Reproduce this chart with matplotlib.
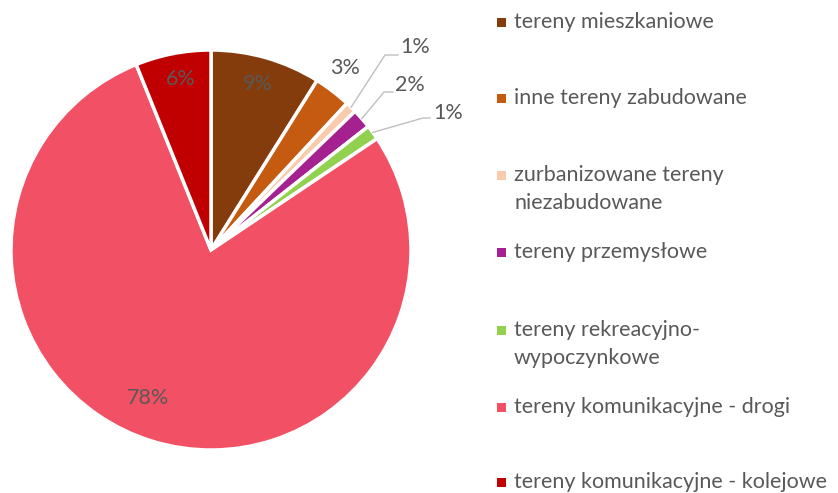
import numpy as np
import matplotlib.pyplot as plt
from matplotlib.patches import Rectangle

# Udział poszczególnych form użytkowania terenu (%)
labels = ['tereny mieszkaniowe', 'inne tereny zabudowane',
          'zurbanizowane tereny\nniezabudowane', 'tereny przemysłowe',
          'tereny rekreacyjno-\nwypoczynkowe', 'tereny komunikacyjne - drogi',
          'tereny komunikacyjne - kolejowe']
values = [8.9, 3.0, 0.9, 1.6, 1.2, 78.3, 6.1]
pct_labels = ['9%', '3%', '1%', '2%', '1%', '78%', '6%']
colors = ['#843C0C', '#C55A11', '#F8CBAD', '#A5218F', '#92D050', '#F25064', '#C00000']

text_color = '#595959'
plt.rcParams['font.family'] = ['Lato', 'DejaVu Sans']
fs = 15.5

fig = plt.figure(figsize=(8.38, 4.93), dpi=100)
ax = fig.add_axes([11 / 838, 43 / 493, 400 / 838, 400 / 493])
wedges, _ = ax.pie(values, colors=colors, startangle=90, counterclock=False,
                   wedgeprops=dict(edgecolor='white', linewidth=2.5))
ax.set_xlim(-1, 1)
ax.set_ylim(-1, 1)
ax.axis('off')

# label placement (data coords): inside labels, outside labels with leader lines
inside_pos = {0: (0.235, 0.83), 5: (-0.315, -0.74), 6: (-0.15, 0.855)}
outside_pos = {1: (0.67, 0.91)}
leader = {2: ((0.87, 0.975), (0.935, 0.975), (0.945, 1.015)),
          3: ((0.865, 0.79), (0.91, 0.79), (0.92, 0.825)),
          4: ((1.06, 0.66), (1.095, 0.66), (1.11, 0.685))}

cum = np.cumsum([0] + values[:-1])
total = sum(values)
for i, w in enumerate(wedges):
    if i in inside_pos:
        x, y = inside_pos[i]
        ax.text(x, y, pct_labels[i], ha='center', va='center', fontsize=fs, color=text_color)
    elif i in outside_pos:
        x, y = outside_pos[i]
        ax.text(x, y, pct_labels[i], ha='center', va='center', fontsize=fs, color=text_color)
    else:
        mid = np.deg2rad(90 - (cum[i] + values[i] / 2) / total * 360)
        sx, sy = 1.0 * np.cos(mid), 1.0 * np.sin(mid)
        elbow, end, tpos = leader[i]
        ax.plot([sx, elbow[0], end[0]], [sy, elbow[1], end[1]], color='#BFBFBF',
                linewidth=1, clip_on=False)
        ax.text(tpos[0], tpos[1], pct_labels[i], ha='left', va='center',
                fontsize=fs, color=text_color)

# legend drawn by hand to match spacing
legend_y = [22, 98, 175, 252, 330, 407, 482]
for lab, col, yp in zip(labels, colors, legend_y):
    fig.patches.append(Rectangle((497 / 838, (493 - yp - 4.5) / 493), 9 / 838, 9 / 493,
                                 transform=fig.transFigure, facecolor=col, edgecolor='none'))
    for k, line in enumerate(lab.split('\n')):
        fig.text(514 / 838, (493 - yp - 28 * k) / 493, line, ha='left', va='center',
                 fontsize=fs, color=text_color)

fig.savefig('out.png', dpi=100)
